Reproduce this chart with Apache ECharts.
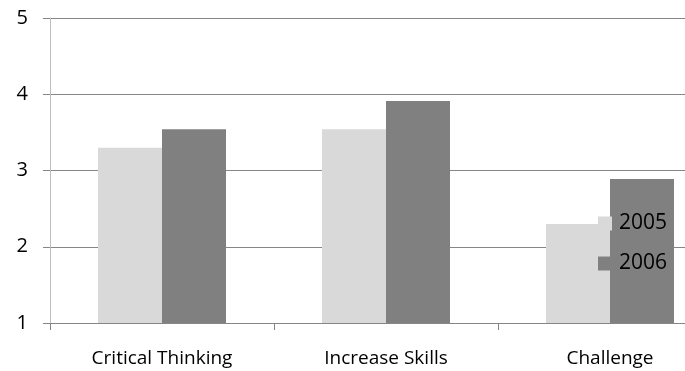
<!DOCTYPE html>
<html><head><meta charset="utf-8">
<script src="https://cdn.jsdelivr.net/npm/echarts@6/dist/echarts.min.js"></script>
<style>html,body{margin:0;padding:0;background:#fff}#c{width:685px;height:371px}</style>
</head><body><div id="c"></div>
<script>
const categories = ['Critical Thinking', 'Increase Skills', 'Challenge'];
const seriesNames = ['2005', '2006'];
const values2005 = [3.30, 3.54, 2.30];
const values2006 = [3.54, 3.91, 2.89];
const yTicks = [1, 2, 3, 4, 5];

const chart = echarts.init(document.getElementById('c'));
const font = 'Open Sans';
chart.setOption({
  animation: false,
  grid: { left: 50, top: 18, height: 305, width: 672, outerBoundsMode: 'none' },
  legend: {
    data: seriesNames,
    orient: 'vertical',
    left: 598, top: 213, padding: 0,
    itemWidth: 14, itemHeight: 14, itemGap: 19,
    icon: 'rect',
    textStyle: { fontFamily: font, fontSize: 21, color: '#000', padding: [0,0,0,2] }
  },
  xAxis: {
    type: 'category', data: categories,
    axisLine: { lineStyle: { color: '#868686', width: 1 } },
    axisTick: { show: true, length: 7, lineStyle: { color: '#868686' } },
    axisLabel: { fontFamily: font, fontSize: 19, color: '#000', margin: 26 }
  },
  yAxis: {
    type: 'value', min: 1, max: 5, interval: 1,
    axisLine: { show: true, lineStyle: { color: '#bfbfbf' } },
    axisTick: { show: true, length: 7, lineStyle: { color: '#868686' } },
    splitLine: { show: true, lineStyle: { color: '#868686' } },
    axisLabel: { fontFamily: font, fontSize: 20, color: '#000', margin: 22,
      formatter: v => yTicks.includes(v) ? String(v) : '' }
  },
  series: [
    { name: seriesNames[0], type: 'bar', data: values2005, barWidth: 64, barGap: '0%', itemStyle: { color: '#d9d9d9' } },
    { name: seriesNames[1], type: 'bar', data: values2006, barWidth: 64, barGap: '0%', itemStyle: { color: '#808080' } }
  ]
});
</script></body></html>
